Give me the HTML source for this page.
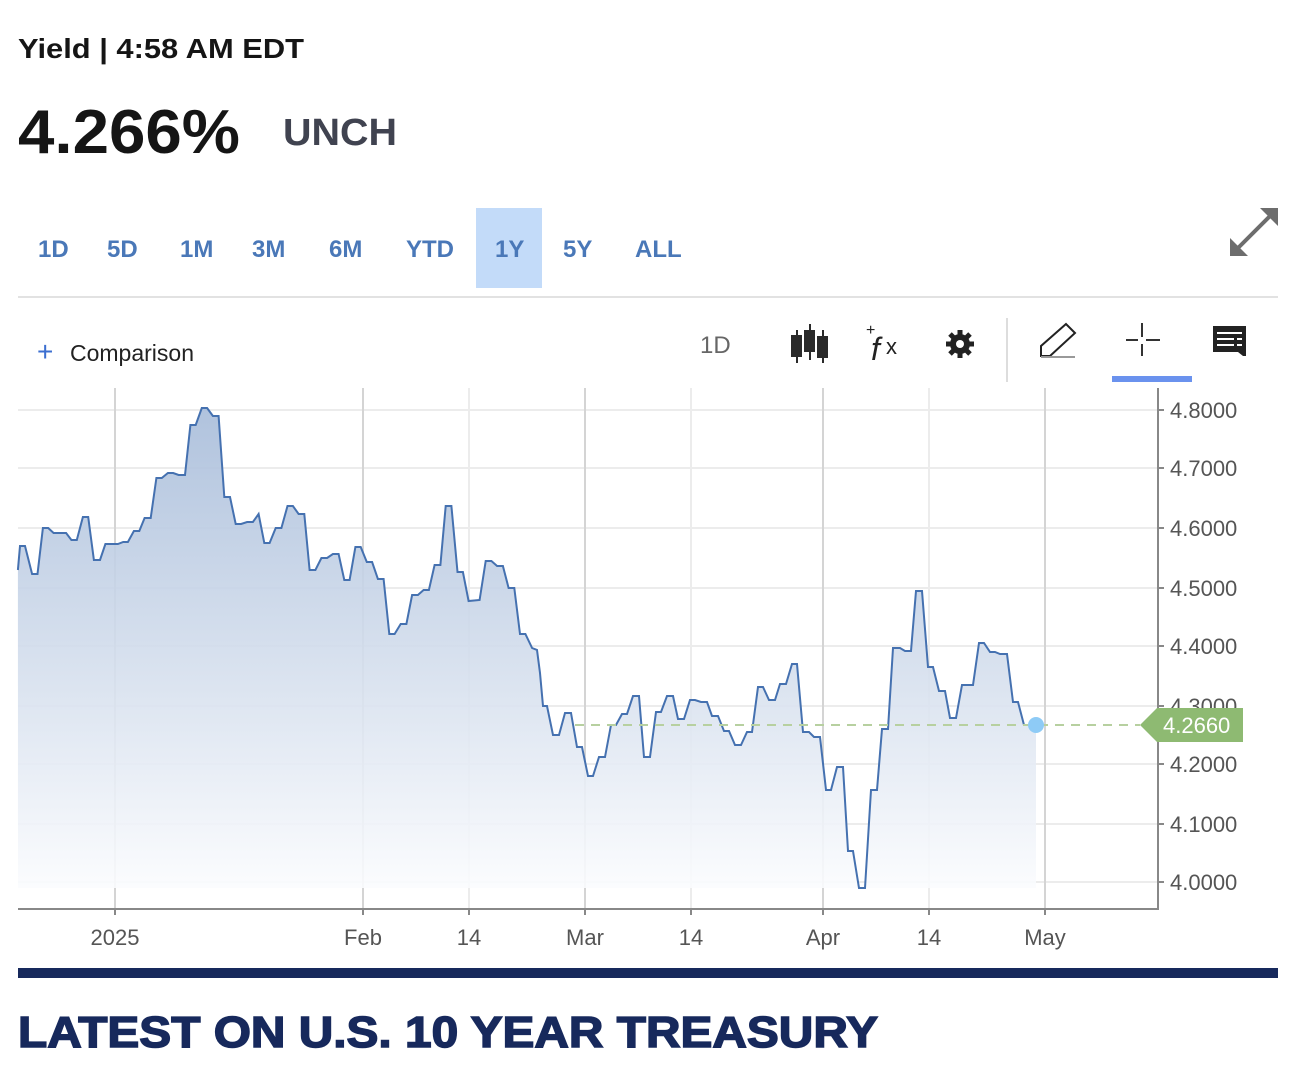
<!DOCTYPE html>
<html><head><meta charset="utf-8"><style>
html,body{margin:0;padding:0;background:#fff;width:1308px;height:1070px;overflow:hidden}
svg{display:block}
text{font-family:"Liberation Sans",Arial,sans-serif}
</style></head><body>
<svg width="1308" height="1070" viewBox="0 0 1308 1070" xmlns="http://www.w3.org/2000/svg">
<defs>
<linearGradient id="fill" gradientUnits="userSpaceOnUse" x1="0" y1="400" x2="0" y2="890">
<stop offset="0" stop-color="#a6bbd9"/><stop offset="0.6" stop-color="#d9e2ef"/><stop offset="1" stop-color="#fbfcfe"/>
</linearGradient>
</defs>
<text x="18" y="58" font-size="28" font-weight="bold" fill="#151515" textLength="286" lengthAdjust="spacingAndGlyphs">Yield | 4:58 AM EDT</text>
<text x="18" y="153" font-size="62" font-weight="bold" fill="#151515" textLength="222" lengthAdjust="spacingAndGlyphs">4.266%</text>
<text x="283" y="145" font-size="38" font-weight="bold" fill="#404350" textLength="114" lengthAdjust="spacingAndGlyphs">UNCH</text>
<rect x="476" y="208" width="66" height="80" fill="#c3dbf9"/>
<g font-size="24" font-weight="bold" fill="#4a78b8">
<text x="38" y="257">1D</text><text x="107" y="257">5D</text><text x="180" y="257">1M</text>
<text x="252" y="257">3M</text><text x="329" y="257">6M</text><text x="406" y="257">YTD</text>
<text x="495" y="257">1Y</text><text x="563" y="257">5Y</text><text x="635" y="257">ALL</text>
</g>
<g stroke="#6d6d6d" stroke-width="4" fill="#6d6d6d">
<line x1="1238" y1="248" x2="1270" y2="216"/>
<polygon points="1230,256 1230,238 1248,256" stroke="none"/>
<polygon points="1278,208 1260,208 1278,226" stroke="none"/>
</g>
<rect x="18" y="296" width="1260" height="2" fill="#e2e2e2"/>
<text x="37" y="361" font-size="28" fill="#3c6fd0">+</text>
<text x="70" y="361" font-size="23" fill="#222">Comparison</text>
<text x="700" y="353" font-size="24" fill="#666">1D</text>
<g fill="#2a2a2a" stroke="#2a2a2a" stroke-width="2">
<line x1="797" y1="330" x2="797" y2="363"/><rect x="792" y="336" width="9" height="20"/>
<line x1="810" y1="324" x2="810" y2="360"/><rect x="805" y="331" width="9" height="20"/>
<line x1="823" y1="330" x2="823" y2="363"/><rect x="818" y="337" width="9" height="20"/>
</g>
<text x="866" y="335" font-size="16" fill="#222">+</text>
<text x="871" y="360" font-size="32" font-style="italic" font-family="Liberation Serif" fill="#222">f</text>
<text x="886" y="354" font-size="22" fill="#222">x</text>
<g stroke="#222" stroke-width="5"><line x1="960" y1="330" x2="960" y2="358"/><line x1="946" y1="344" x2="974" y2="344"/><line x1="950" y1="334" x2="970" y2="354"/><line x1="970" y1="334" x2="950" y2="354"/></g>
<circle cx="960" cy="344" r="10" fill="#222"/>
<circle cx="960" cy="344" r="4" fill="#fff"/>
<rect x="1006" y="318" width="2" height="64" fill="#ddd"/>
<path d="M1041,356 L1041,346 L1066,324 L1075,333 L1050,356 Z" fill="none" stroke="#222" stroke-width="2"/>
<line x1="1041" y1="357" x2="1075" y2="357" stroke="#999" stroke-width="2"/>
<g stroke="#333" stroke-width="2"><line x1="1142" y1="323" x2="1142" y2="337"/><line x1="1142" y1="344" x2="1142" y2="356"/><line x1="1126" y1="340" x2="1138" y2="340"/><line x1="1146" y1="340" x2="1160" y2="340"/></g>
<rect x="1112" y="376" width="80" height="6" fill="#6a92ee"/>
<path d="M1213,326 H1246 V356 H1243 L1238,352 H1213 Z" fill="#222"/>
<g stroke="#fff" stroke-width="2"><line x1="1217" y1="333" x2="1242" y2="333"/><line x1="1217" y1="339" x2="1234" y2="339"/><line x1="1217" y1="345" x2="1234" y2="345"/><line x1="1237" y1="339" x2="1242" y2="339"/><line x1="1237" y1="345" x2="1242" y2="345"/></g>
<g stroke="#ececec" stroke-width="2">
<line x1="18" y1="410" x2="1158" y2="410"/><line x1="18" y1="468" x2="1158" y2="468"/>
<line x1="18" y1="528" x2="1158" y2="528"/><line x1="18" y1="588" x2="1158" y2="588"/>
<line x1="18" y1="646" x2="1158" y2="646"/><line x1="18" y1="706" x2="1158" y2="706"/>
<line x1="18" y1="764" x2="1158" y2="764"/><line x1="18" y1="824" x2="1158" y2="824"/>
<line x1="18" y1="882" x2="1158" y2="882"/>
<line x1="469" y1="388" x2="469" y2="908"/><line x1="691" y1="388" x2="691" y2="908"/><line x1="929" y1="388" x2="929" y2="908"/>
</g>
<g stroke="#d4d4d4" stroke-width="2">
<line x1="115" y1="388" x2="115" y2="908"/><line x1="363" y1="388" x2="363" y2="908"/>
<line x1="585" y1="388" x2="585" y2="908"/><line x1="823" y1="388" x2="823" y2="908"/>
<line x1="1045" y1="388" x2="1045" y2="908"/>
</g>
<path id="area" d="M17.9,570 L20,546 L25,546 L32.1,574 L37.5,574 L42.9,528 L48.2,528 L53.6,533 L66.1,533 L71.4,540 L76.8,540 L82.9,517 L88.2,517 L93.9,560 L100,560 L105.4,544 L117.9,544 L123.2,542 L127.9,542 L133.9,531 L139.3,531 L144.6,518 L150.7,518 L156.4,478 L161.8,478 L167.9,473 L173.2,473 L178.6,475 L185,475 L190.4,425 L195.7,425 L201.8,408 L207.1,408 L212.9,416 L218.6,416 L224.3,497 L230,497 L235.7,524 L241.1,524 L247.1,522 L252.9,522 L258.6,514 L264.3,543 L269.6,543 L275.7,528 L281.4,528 L287.5,506 L292.9,506 L298.6,514 L304.3,514 L309.6,570 L315.4,570 L321.4,558 L327.1,558 L332.9,554 L338.6,554 L344.3,580 L349.6,580 L355.4,547 L360.7,547 L366.8,562 L372.1,562 L377.9,579 L383.6,579 L389.3,634 L394.6,634 L400.7,624 L406.4,624 L412.1,595 L417.9,595 L423.6,590 L428.9,590 L434.6,565 L440.4,565 L445.7,506 L451.4,506 L457.5,572 L462.9,572 L468.6,601 L479.6,600 L485.7,561 L491.4,561 L497.1,566 L502.9,566 L508.6,588 L514.3,588 L520,634 L525.4,634 L532.1,648 L537,650 L540,673 L543,706 L547,706 L553,735 L559,735 L565,713 L571,713 L577,747 L582,747 L588,776 L593,776 L599,757 L605,757 L611,725 L616,725 L622,714 L627,714 L633,696 L639,696 L644,757 L650,757 L656,712 L661,712 L667,696 L673,696 L678,719 L684,719 L690,700 L695,700 L701,702 L707,702 L712,716 L718,716 L724,731 L729,731 L735,745 L741,745 L747,732 L752,732 L758,687 L763,687 L769,700 L775,700 L780,684 L786,684 L792,664 L797,664 L803,732 L809,732 L814,737 L820,737 L826,790 L831,790 L837,767 L843,767 L848,851 L853,851 L859,888 L865,888 L871,790 L877,790 L882,729 L888,729 L893,648 L900,648 L905,651 L911,651 L916,591 L922,591 L928,667 L933,667 L939,691 L945,691 L950,718 L956,718 L962,685 L973,685 L979,643 L984,643 L990,652 L995,652 L1000,654 L1007,654 L1013,702 L1018,702 L1024,725 L1036,725" fill="none"/>
<path d="M17.9,570 L20,546 L25,546 L32.1,574 L37.5,574 L42.9,528 L48.2,528 L53.6,533 L66.1,533 L71.4,540 L76.8,540 L82.9,517 L88.2,517 L93.9,560 L100,560 L105.4,544 L117.9,544 L123.2,542 L127.9,542 L133.9,531 L139.3,531 L144.6,518 L150.7,518 L156.4,478 L161.8,478 L167.9,473 L173.2,473 L178.6,475 L185,475 L190.4,425 L195.7,425 L201.8,408 L207.1,408 L212.9,416 L218.6,416 L224.3,497 L230,497 L235.7,524 L241.1,524 L247.1,522 L252.9,522 L258.6,514 L264.3,543 L269.6,543 L275.7,528 L281.4,528 L287.5,506 L292.9,506 L298.6,514 L304.3,514 L309.6,570 L315.4,570 L321.4,558 L327.1,558 L332.9,554 L338.6,554 L344.3,580 L349.6,580 L355.4,547 L360.7,547 L366.8,562 L372.1,562 L377.9,579 L383.6,579 L389.3,634 L394.6,634 L400.7,624 L406.4,624 L412.1,595 L417.9,595 L423.6,590 L428.9,590 L434.6,565 L440.4,565 L445.7,506 L451.4,506 L457.5,572 L462.9,572 L468.6,601 L479.6,600 L485.7,561 L491.4,561 L497.1,566 L502.9,566 L508.6,588 L514.3,588 L520,634 L525.4,634 L532.1,648 L537,650 L540,673 L543,706 L547,706 L553,735 L559,735 L565,713 L571,713 L577,747 L582,747 L588,776 L593,776 L599,757 L605,757 L611,725 L616,725 L622,714 L627,714 L633,696 L639,696 L644,757 L650,757 L656,712 L661,712 L667,696 L673,696 L678,719 L684,719 L690,700 L695,700 L701,702 L707,702 L712,716 L718,716 L724,731 L729,731 L735,745 L741,745 L747,732 L752,732 L758,687 L763,687 L769,700 L775,700 L780,684 L786,684 L792,664 L797,664 L803,732 L809,732 L814,737 L820,737 L826,790 L831,790 L837,767 L843,767 L848,851 L853,851 L859,888 L865,888 L871,790 L877,790 L882,729 L888,729 L893,648 L900,648 L905,651 L911,651 L916,591 L922,591 L928,667 L933,667 L939,691 L945,691 L950,718 L956,718 L962,685 L973,685 L979,643 L984,643 L990,652 L995,652 L1000,654 L1007,654 L1013,702 L1018,702 L1024,725 L1036,725 L1036,888 L18,888 Z" fill="url(#fill)" opacity="0.9"/>
<use href="#area" stroke="#4571b0" stroke-width="2"/>
<line x1="575" y1="725" x2="1140" y2="725" stroke="#b7d0a0" stroke-width="2" stroke-dasharray="9,7"/>
<circle cx="1036" cy="725" r="8" fill="#8ecbf6"/>
<line x1="1158" y1="388" x2="1158" y2="909" stroke="#888" stroke-width="2"/>
<line x1="18" y1="909" x2="1159" y2="909" stroke="#888" stroke-width="2"/>
<g stroke="#888" stroke-width="2">
<line x1="1158" y1="410" x2="1164" y2="410"/><line x1="1158" y1="468" x2="1164" y2="468"/><line x1="1158" y1="528" x2="1164" y2="528"/><line x1="1158" y1="588" x2="1164" y2="588"/><line x1="1158" y1="646" x2="1164" y2="646"/><line x1="1158" y1="706" x2="1164" y2="706"/><line x1="1158" y1="764" x2="1164" y2="764"/><line x1="1158" y1="824" x2="1164" y2="824"/><line x1="1158" y1="882" x2="1164" y2="882"/>
<line x1="115" y1="909" x2="115" y2="915"/><line x1="363" y1="909" x2="363" y2="915"/><line x1="469" y1="909" x2="469" y2="915"/><line x1="585" y1="909" x2="585" y2="915"/><line x1="691" y1="909" x2="691" y2="915"/><line x1="823" y1="909" x2="823" y2="915"/><line x1="929" y1="909" x2="929" y2="915"/><line x1="1045" y1="909" x2="1045" y2="915"/>
</g>
<g font-size="22" fill="#555">
<text x="1170" y="418">4.8000</text><text x="1170" y="476">4.7000</text><text x="1170" y="536">4.6000</text><text x="1170" y="596">4.5000</text><text x="1170" y="654">4.4000</text><text x="1170" y="714">4.3000</text><text x="1170" y="772">4.2000</text><text x="1170" y="832">4.1000</text><text x="1170" y="890">4.0000</text>
</g>
<path d="M1140,725 L1157,708 H1243 V742 H1157 Z" fill="#8eba72"/>
<text x="1163" y="733" font-size="22" fill="#fff">4.2660</text>
<g font-size="22" fill="#555" text-anchor="middle">
<text x="115" y="945">2025</text><text x="363" y="945">Feb</text><text x="469" y="945">14</text><text x="585" y="945">Mar</text><text x="691" y="945">14</text><text x="823" y="945">Apr</text><text x="929" y="945">14</text><text x="1045" y="945">May</text>
</g>
<rect x="18" y="968" width="1260" height="10" fill="#17295c"/>
<text x="18" y="1047" font-size="44" font-weight="900" fill="#17295c" stroke="#17295c" stroke-width="1.5" textLength="860" lengthAdjust="spacingAndGlyphs">LATEST ON U.S. 10 YEAR TREASURY</text>
</svg>
</body></html>
